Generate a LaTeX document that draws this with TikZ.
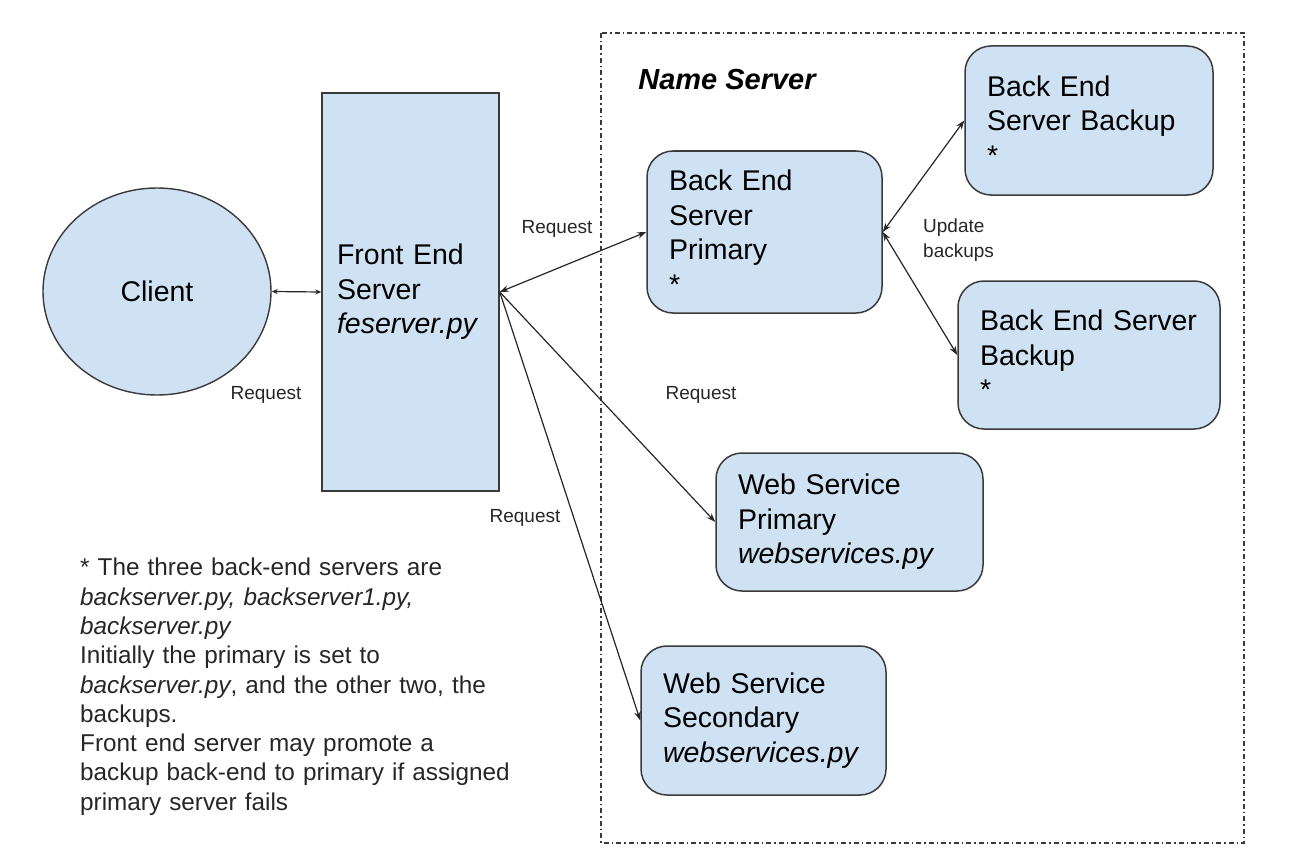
\documentclass[tikz,border=0pt]{standalone}
\usepackage{fontspec}
\setmainfont{Liberation Sans}
\usetikzlibrary{arrows.meta,shapes.geometric}

\definecolor{boxfill}{HTML}{CFE2F3}
\definecolor{boxline}{HTML}{3A3A3A}

\begin{document}
\begin{tikzpicture}[x=1pt, y=-1pt, >={Stealth[length=9pt,width=6.5pt]},
  srv/.style={draw=boxline, fill=boxfill, line width=1.5pt, rounded corners=26pt,
    align=left, inner xsep=22pt, inner ysep=0pt, font=\fontsize{28.5}{34.5}\selectfont},
  lbl/.style={font=\fontsize{19}{25}\selectfont, inner sep=0pt, text=black!85},
  link/.style={<->, line width=1.2pt, draw=black!85}]

  % page size (pixels of the reference)
  \useasboundingbox (0,0) rectangle (1290,864);

  % name server frame
  \draw[boxline, line width=1.3pt, dash pattern=on 5pt off 3pt on 1.5pt off 3pt]
    (601,33) rectangle (1244,843);
  \node[font=\fontsize{29}{35}\selectfont\bfseries\itshape] (nstitle) at (727,80) {Name Server};

  % client and front end
  \node[ellipse, draw=boxline, fill=boxfill, line width=1.4pt, inner sep=0pt,
        minimum width=228pt, minimum height=207pt, font=\fontsize{28.5}{34.5}\selectfont]
        (client) at (157,291.5) {Client};
  \node[srv, rounded corners=0pt, inner xsep=15pt, text width=147pt, minimum height=398pt]
        (feserver) at (410.5,292) {Front End\\Server\\\textit{feserver.py}};

  % back end servers
  \node[srv, text width=191pt, minimum height=162pt] (backprimary) at (764.5,232)
        {Back End\\Server\\Primary\\{*}};
  \node[srv, text width=204pt, minimum height=149pt] (backupa) at (1089,120.5)
        {Back End\\Server Backup\\{*}};
  \node[srv, text width=218pt, minimum height=148pt] (backupb) at (1089,355)
        {Back~End~Server\\Backup\\{*}};

  % web services
  \node[srv, text width=223pt, minimum height=138pt] (webprimary) at (849.5,522)
        {Web Service\\Primary\\\textit{webservices.py}};
  \node[srv, text width=201pt, minimum height=149pt] (websecondary) at (763.5,720.5)
        {Web Service\\Secondary\\\textit{webservices.py}};

  % connectors
  \draw[link, >={Stealth[length=6pt,width=5pt]}] (client.east) -- (feserver.west);
  \draw[link] (feserver.east) -- (backprimary.west);
  \draw[link] (backprimary.east) -- (backupa.west);
  \draw[link] (backprimary.east) -- (backupb.west);
  \draw[link, -{>}] (feserver.east) -- (webprimary.west);
  \draw[link, -{>}] (feserver.east) -- (websecondary.west);

  % labels
  \node[lbl] (req1) at (266,395) {Request};
  \node[lbl] (req2) at (557,229) {Request};
  \node[lbl] (req3) at (701,395) {Request};
  \node[lbl] (req4) at (525,518) {Request};
  \node[lbl, anchor=west, align=left] (upd) at (923,240.5) {Update\\backups};

  % footnote
  \node[anchor=north west, inner sep=0pt, align=left, text width=500pt,
        font=\fontsize{24.3}{29.3}\selectfont, text=black!85] (note) at (80,558)
    {{*} The three back-end servers are\\
     \textit{backserver.py, backserver1.py,}\\
     \textit{backserver.py}\\
     Initially the primary is set to\\
     \textit{backserver.py}, and the other two, the\\
     backups.\\
     Front end server may promote a\\
     backup back-end to primary if assigned\\
     primary server fails};

\end{tikzpicture}
\end{document}
